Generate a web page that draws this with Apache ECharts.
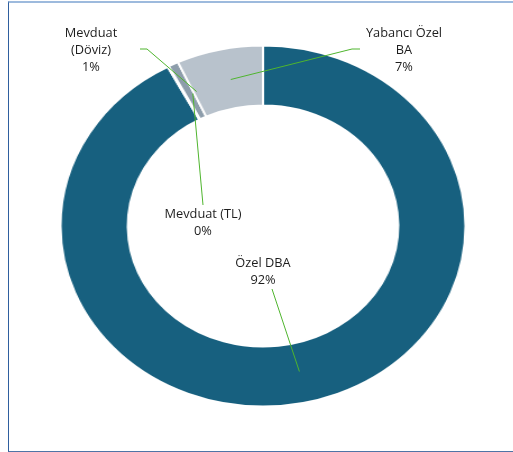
<!DOCTYPE html>
<html>
<head>
<meta charset="utf-8">
<script src="https://cdn.jsdelivr.net/npm/echarts@6/dist/echarts.min.js"></script>
<style>
  html, body { margin: 0; padding: 0; background: #fff; }
  #wrap { position: relative; width: 513px; height: 452px; overflow: hidden; }
  #frame { position: absolute; left: 8px; top: 1px; width: 520px; height: 448px;
           border-left: 1px solid #2f5f9e; border-top: 2px solid #9dbadd; border-bottom: 1px solid #4f74a6; }
  #ring, #labels { position: absolute; left: 0; top: 0; width: 513px; height: 452px; }
  #ring { transform: scaleX(1.122); transform-origin: 263px 226px; }
</style>
</head>
<body>
<div id="wrap">
  <div id="frame"></div>
  <div id="ring"></div>
  <div id="labels"></div>
</div>
<script>
  const categories = ["Özel DBA", "Mevduat (TL)", "Mevduat (Döviz)", "Yabancı Özel BA"];
  const labelText = ["Özel DBA", "Mevduat (TL)", "Mevduat\n(Döviz)", "Yabancı Özel\nBA"];
  const values = [92.2, 0.1, 0.8, 6.9];
  const colors = ["#17607f", "#17607f", "#8d9dab", "#b8c2cc"];

  // where each label sits and where its leader line meets it
  const labelSpots = [
    { x: 263, y: 272, elbow: [272, 289], end: [272, 289] },
    { x: 203, y: 223, elbow: [203, 205], end: [203, 205] },
    { x: 91, y: 50, elbow: [147, 49], end: [140, 49] },
    { x: 404, y: 50, elbow: [352, 49], end: [360, 49] },
  ];

  const pieData = categories.map((name, i) => ({
    name: name,
    value: values[i],
    itemStyle: { color: colors[i] },
  }));

  const ring = echarts.init(document.getElementById("ring"));
  ring.setOption({
    animation: false,
    series: [
      {
        type: "pie",
        center: [263, 226],
        radius: [120.5, 180.5],
        startAngle: 90,
        silent: true,
        itemStyle: { borderColor: "#ffffff", borderWidth: 2 },
        label: { show: false },
        labelLine: { show: false },
        data: pieData,
      },
    ],
  });

  const labels = echarts.init(document.getElementById("labels"));
  labels.setOption({
    animation: false,
    series: [
      {
        type: "pie",
        center: [263, 226],
        radius: [0, 150],
        startAngle: 90,
        silent: true,
        percentPrecision: 0,
        avoidLabelOverlap: false,
        itemStyle: { color: "rgba(0,0,0,0)" },
        label: {
          show: true,
          position: "outside",
          color: "#1e1e1e",
          fontFamily: "Open Sans",
          fontSize: 12.8,
          lineHeight: 17,
          align: "center",
          formatter: (p) => labelText[p.dataIndex] + "\n" + p.percent + "%",
        },
        labelLine: {
          show: true,
          length: 5,
          length2: 5,
          lineStyle: { color: "#4fb52e", width: 1 },
        },
        labelLayout: (params) => {
          const s = labelSpots[params.dataIndex];
          const anchor = params.labelLinePoints ? params.labelLinePoints[0] : s.elbow;
          return {
            x: s.x,
            y: s.y,
            align: "center",
            verticalAlign: "middle",
            labelLinePoints: [anchor, s.elbow, s.end],
          };
        },
        data: categories.map((name, i) => ({ name: name, value: values[i] })),
      },
    ],
  });
</script>
</body>
</html>
